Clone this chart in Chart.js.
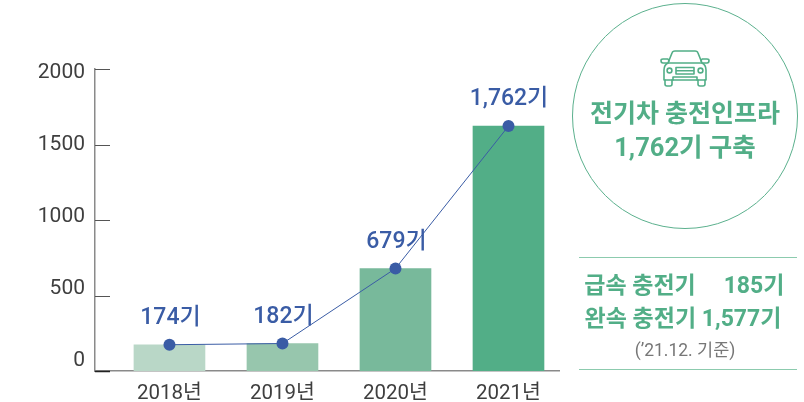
<!DOCTYPE html>
<html lang="ko"><head><meta charset="utf-8">
<style>
html,body{margin:0;padding:0;background:#fff;overflow:hidden}
#wrap{position:relative;width:804px;height:402px}
canvas{position:absolute;left:0;top:0}
.t{position:absolute;white-space:pre;font-family:Roboto,"Noto Sans CJK KR",sans-serif;color:#52ae87;font-weight:700;line-height:1;transform:translate(-50%,-50%)}
.c{position:absolute;left:572px;top:3px;width:224px;height:224px;border:1.5px solid #5bb08d;border-radius:50%;box-sizing:content-box}
.r{position:absolute;left:579px;width:218px;height:0;border-top:1.5px solid #8ccbae}
</style></head><body>
<div id="wrap">
<canvas id="c" width="804" height="402"></canvas>
<div class="c"></div>
<svg style="position:absolute;left:659px;top:49px" width="52" height="39" viewBox="0 0 52 39" fill="none" stroke="#52ae87" stroke-width="1.6" stroke-linejoin="round" stroke-linecap="round">
<path d="M9 14 L13 4 Q13.5 2 16 2 H36 Q38.5 2 39 4 L43 14"/>
<path d="M9 14 H43 Q47 16 47 21 V31 H5 V21 Q5 16 9 14Z"/>
<path d="M8 14 H4 Q2 14 2 11.5 Q2 10 4 10 H9 L10 12"/><path d="M44 14 H48 Q50 14 50 11.5 Q50 10 48 10 H43 L42 12"/>
<circle cx="10.5" cy="21.5" r="2.4"/><circle cx="41.5" cy="21.5" r="2.4"/>
<path d="M17 18.5 H35 V25 H17Z M17 21.8 H35"/>
<path d="M14 31 V28 H38 V31"/><path d="M6 31 V35 Q6 37 8 37 H11 Q13 37 13 35 V31"/><path d="M39 31 V35 Q39 37 41 37 H44 Q46 37 46 35 V31"/>
</svg>
<div class="t" style="left:685px;top:113px;font-size:25px">전기차 충전인프라</div>
<div class="t" style="left:685px;top:148px;font-size:25.5px">1,762기 구축</div>
<div class="r" style="top:257px"></div>
<div class="t" style="left:640px;top:285px;font-size:23px">급속 충전기</div>
<div class="t" style="left:754px;top:285px;font-size:23px">185기</div>
<div class="t" style="left:683px;top:318px;font-size:23px">완속 충전기 1,577기</div>
<div class="t" style="left:685px;top:351px;font-size:17.5px;color:#777;font-weight:400">(’21.12. 기준)</div>
<div class="r" style="top:369px"></div>
</div>
<script src="https://cdn.jsdelivr.net/npm/chart.js@4"></script>
<script>
const categories = ["2018년","2019년","2020년","2021년"];
const positions = [0,1,2,3];
const plottedValues = [174,182,679,1622];
const valueLabels = ["174기","182기","679기","1,762기"];
const barColors = ["#b9d7c7","#97c6ad","#78b99b","#52ae87"];
const yTicks = [0,500,1000,1500,2000];
const FONT = 'Roboto,"Noto Sans CJK KR",sans-serif';

const overlay = {
  id:"overlay",
  afterDatasetsDraw(chart){
    const {ctx,scales:{y}} = chart;
    ctx.save();
    y.ticks.forEach(t=>{
      const py = Math.round(y.getPixelForValue(t.value))+0.5;
      ctx.beginPath();ctx.moveTo(95,py);ctx.lineTo(110,py);
      ctx.strokeStyle = t.value===0 ? "#222" : "#555";
      ctx.lineWidth = t.value===0 ? 1.5 : 1;ctx.stroke();
    });
    const pts = chart.getDatasetMeta(0).data;
    ctx.fillStyle="#3a5ca5";ctx.font='500 23px '+FONT;ctx.textAlign="center";ctx.textBaseline="middle";
    pts.forEach((p,i)=>ctx.fillText(valueLabels[i],p.x+(i===3?0.5:1),p.y-26.5));
    ctx.restore();
  }
};

new Chart(document.getElementById("c"),{
  type:"bar",
  data:{datasets:[
    {type:"line",order:0,data:positions.map((x,i)=>({x,y:plottedValues[i]})),borderColor:"#3a5ca5",borderWidth:1,tension:0,
     pointRadius:6,pointBackgroundColor:"#3a5ca5",pointBorderWidth:0,pointHoverRadius:6},
    {type:"bar",order:1,data:positions.map((x,i)=>({x,y:plottedValues[i]})),backgroundColor:barColors,barThickness:71,borderWidth:0}
  ]},
  options:{
    responsive:false,animation:false,events:[],
    layout:{padding:{left:0,top:69,right:245,bottom:0}},
    plugins:{legend:{display:false},tooltip:{enabled:false}},
    scales:{
      x:{type:"linear",min:-0.659,max:3.447,offset:false,
        afterBuildTicks(s){s.ticks=positions.map(v=>({value:v}));},
        afterFit(s){s.height=31;},
        grid:{display:false,drawTicks:false},
        border:{color:"#8a8a8a",width:1.5},
        ticks:{autoSkip:false,maxRotation:0,padding:11,color:"#3f3f3f",font:{family:FONT,size:20.5},callback:v=>categories[v]}
      },
      y:{min:0,max:2000,display:false,
        afterBuildTicks(s){s.ticks=yTicks.map(v=>({value:v}));}
      },
      yLabels:{type:"linear",position:"left",min:-69.4,max:2027.8,
        afterBuildTicks(s){s.ticks=yTicks.map(v=>({value:v}));},
        afterFit(s){s.width=95;},
        grid:{display:false,drawTicks:false},
        border:{color:"#8a8a8a",width:1.5},
        ticks:{padding:10,color:"#3f3f3f",font:{family:FONT,size:21},callback:v=>String(v)}
      }
    }
  },
  plugins:[overlay]
});
</script>
</body></html>
